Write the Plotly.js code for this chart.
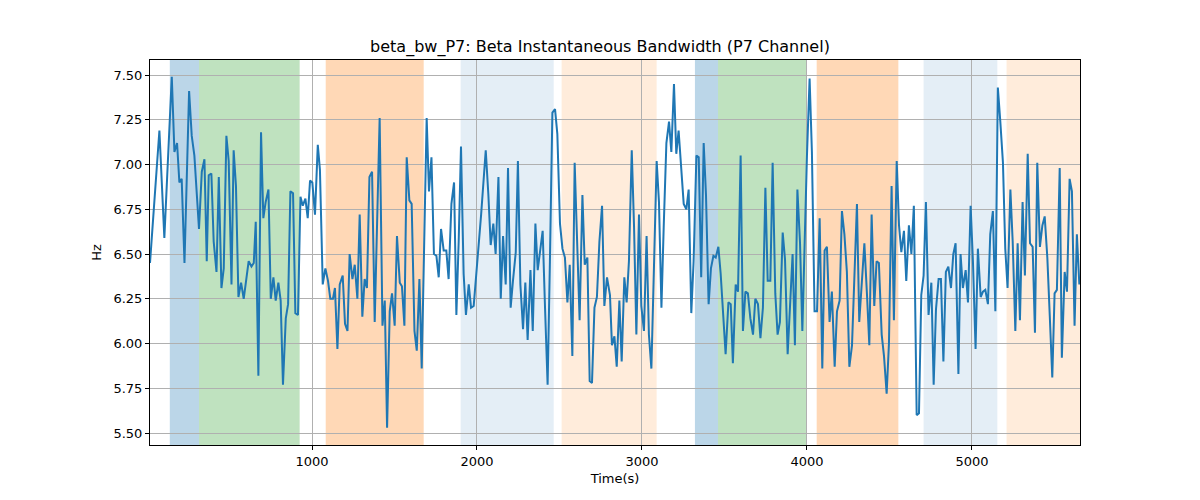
<!DOCTYPE html>
<html>
<head>
<meta charset="utf-8">
<script src="https://cdn.plot.ly/plotly-3.0.1.min.js"></script>
<style>html,body{margin:0;padding:0;background:#fff;}#chart{width:1200px;height:500px;}</style>
</head>
<body>
<div id="chart"></div>
<script>
var timeS = [18,75,105,150,166,182,196,210,227,255,271,287,315,332,348,362,374,390,404,421,435,451,465,481,495,512,525,539,554,570,
586,602,616,633,647,659,675,691,705,719,736,750,766,780,796,810,824,841,855,869,885,899,915,930,944,960,974,988,1002,1018,1035,1048,1065,1081,1097,1111,1127,
1139,1154,1168,1186,1200,1215,1228,1245,1259,1275,1289,1305,1319,1333,1348,1364,1380,1410,1427,1441,1455,1471,1485,1501,1515,1532,1545,1560,1574,1590,1604,1621,1635,1651,1665,
1695,1709,1724,1739,1754,1768,1782,1798,1814,1828,1845,1861,1875,1889,1903,1919,1933,1950,1964,1980,1995,2010,2025,2041,2053,2069,2083,2099,2113,2130,2144,2158,2174,2188,2204,2218,2235,
2248,2263,2279,2293,2307,2324,2338,2354,2368,2382,2398,2412,2428,2442,2457,2473,2487,2503,2518,2533,2548,2562,2578,2592,2608,2622,2639,2653,2669,2683,2697,2712,2727,2742,2758,2772,2788,
2806,2818,2833,2847,2863,2877,2893,2907,2921,2938,2952,2966,2982,2996,3012,3028,3042,3057,3073,3089,3103,3118,3132,3148,3164,3178,3194,3208,3222,3239,3253,3269,3283,3299,3313,3330,3344,
3359,3374,3388,3404,3418,3433,3447,3463,3477,3491,3507,3524,3538,3551,3568,3582,3598,3612,3627,3642,3657,3673,3687,3703,3718,3733,3748,3762,3778,3792,3808,3822,3836,3853,3867,3883,3899,3913,
3927,3942,3958,3972,4000,4016,4030,4046,4061,4077,4093,4107,4121,4137,4151,4168,4182,4198,4212,4227,4242,4257,4273,4287,4303,4317,4333,4348,4364,4378,4392,4408,4422,4436,4453,4467,4483,
4497,4513,4527,4544,4558,4572,4588,4602,4618,4633,4648,4665,4679,4693,4707,4721,4737,4754,4768,4782,4798,4812,4827,4842,4857,4873,4887,4901,4918,4931,4945,4962,4976,4992,5006,5022,5036,
5053,5067,5081,5097,5111,5127,5142,5157,5172,5188,5202,5216,5233,5247,5263,5277,5291,5307,5321,5338,5352,5368,5382,5396,5412,5427,5441,5457,5472,5487,5501,5515,5532,5545,5562,5576,5592,5606,5622,5636,5651];

var bandwidthHz = [6.45,7.19,6.59,7.49,7.07,7.12,6.90,6.92,6.45,7.41,7.16,7.05,6.64,6.96,7.03,6.46,6.94,6.95,6.57,6.40,6.93,6.31,6.42,7.16,7.02,6.33,7.08,6.88,6.26,6.34,
6.25,6.38,6.46,6.43,6.45,6.68,5.82,7.18,6.70,6.79,6.86,6.25,6.37,6.24,6.34,6.24,5.77,6.14,6.22,6.85,6.84,6.17,6.16,6.82,6.77,6.81,6.70,6.91,6.90,6.72,7.11,6.97,6.33,6.42,6.35,6.25,6.25,
6.31,5.97,6.33,6.38,6.11,6.07,6.50,6.36,6.44,6.25,6.72,6.15,6.36,6.31,6.93,6.96,6.12,7.26,6.10,6.24,5.53,6.18,6.28,6.10,6.60,6.34,6.32,6.10,7.04,6.80,6.78,6.07,5.96,6.36,5.86,
7.26,6.85,7.04,6.50,6.49,6.37,6.64,6.52,6.52,6.36,6.78,6.90,6.16,6.57,7.10,6.39,6.16,6.33,6.20,6.21,6.36,6.55,6.72,6.90,7.08,6.83,6.55,6.67,6.50,6.93,6.25,6.60,6.33,6.98,6.20,6.35,6.51,
7.02,6.33,6.08,6.34,6.02,6.41,6.07,6.67,6.41,6.50,6.63,6.21,5.77,6.46,7.29,7.31,7.17,6.67,6.53,6.48,6.23,6.44,5.93,7.01,6.50,6.13,6.83,6.44,6.48,5.79,5.78,6.20,6.26,6.57,6.77,6.21,6.37,
6.27,5.99,6.04,5.87,6.24,5.90,6.37,6.23,6.46,7.08,6.65,6.05,6.72,6.21,6.07,6.60,6.05,5.86,6.42,7.02,6.79,6.20,6.66,7.12,7.24,7.07,7.45,7.06,7.19,6.98,6.78,6.75,6.86,6.17,6.46,7.05,7.04,
6.37,7.12,6.83,6.22,6.42,6.49,6.48,6.54,6.39,6.16,5.94,6.23,6.22,5.89,6.33,6.29,7.05,6.07,6.29,6.28,6.14,6.05,6.25,6.22,6.03,6.20,6.87,6.35,6.35,7.01,6.28,6.05,6.12,6.62,6.47,5.94,6.27,6.50,
5.99,6.86,6.56,6.07,7.05,7.48,7.07,6.18,6.18,6.70,5.86,6.52,6.54,6.12,6.29,5.87,6.18,6.24,6.74,6.61,6.40,5.87,5.99,6.38,6.78,6.12,6.37,6.56,6.27,5.99,6.72,6.21,6.46,6.45,6.05,5.93,5.72,
6.00,6.88,6.13,7.02,6.66,6.51,6.63,6.35,6.66,6.50,6.77,5.60,5.61,6.27,6.38,6.79,6.16,6.34,5.77,6.19,6.36,6.36,5.90,6.40,6.43,6.31,6.50,6.56,5.83,6.50,6.31,6.41,6.23,6.77,6.46,5.97,6.53,
6.26,6.29,6.30,6.22,6.61,6.74,6.18,7.43,7.24,7.01,6.53,6.31,6.86,6.57,6.07,6.56,6.13,6.79,6.38,7.06,6.56,6.54,6.06,7.01,6.54,6.66,6.71,6.48,6.15,5.81,6.28,6.30,6.98,5.92,6.40,6.29,6.92,6.85,6.10,6.61,6.33];

// shaded intervals (start, end) and their colour groups
var bandStarts = [138, 315, 1083, 1901, 2513, 3321, 3461, 4059, 4707, 5210];
var bandEnds   = [315, 925, 1677, 2465, 3089, 3461, 4000, 4554, 5154, 5655];
var bandColors = ['rgba(31,119,180,0.3)','rgba(44,160,44,0.3)','rgba(255,127,14,0.3)','rgba(31,119,180,0.12)','rgba(255,127,14,0.15)',
                  'rgba(31,119,180,0.3)','rgba(44,160,44,0.3)','rgba(255,127,14,0.3)','rgba(31,119,180,0.12)','rgba(255,127,14,0.15)'];

var xTicks = [1000, 2000, 3000, 4000, 5000];
var yTicks = [5.50, 5.75, 6.00, 6.25, 6.50, 6.75, 7.00, 7.25, 7.50];

var shapes = bandStarts.map(function(s, i){
  return {type:'rect', xref:'x', yref:'paper', x0:s, x1:bandEnds[i], y0:0, y1:1,
          fillcolor:bandColors[i], line:{width:0}, layer:'below'};
});

var trace = {x: timeS, y: bandwidthHz, type:'scatter', mode:'lines',
             line:{color:'#1f77b4', width:2}, hoverinfo:'x+y'};

var font = {family:'DejaVu Sans, sans-serif', size:13, color:'#000'};
var layout = {
  width:1200, height:500,
  margin:{l:150, r:120, t:60, b:55},
  paper_bgcolor:'#fff', plot_bgcolor:'rgba(0,0,0,0)',
  font: font,
  showlegend:false,
  title:{text:'beta_bw_P7: Beta Instantaneous Bandwidth (P7 Channel)', font:{family:'DejaVu Sans, sans-serif', size:16, color:'#000'}, x:0.5, xanchor:'center', y:0.908, yanchor:'middle'},
  xaxis:{range:[18,5655], tickvals:xTicks, ticktext:xTicks.map(String), showgrid:true, gridcolor:'#b0b0b0', gridwidth:1,
         zeroline:false, showline:true, linecolor:'#000', linewidth:1, mirror:true, ticks:'outside', ticklen:4, tickcolor:'#000',
         title:{text:'Time(s)', font:font, standoff:6}},
  yaxis:{range:[5.433,7.584], tickvals:yTicks, ticktext:yTicks.map(function(v){return v.toFixed(2);}), showgrid:true, gridcolor:'#b0b0b0', gridwidth:1,
         zeroline:false, showline:true, linecolor:'#000', linewidth:1, mirror:true, ticks:'outside', ticklen:4, tickcolor:'#000',
         title:{text:'Hz', font:font, standoff:8}},
  shapes: shapes
};
Plotly.newPlot('chart', [trace], layout, {staticPlot:true, displayModeBar:false});
</script>
</body>
</html>
